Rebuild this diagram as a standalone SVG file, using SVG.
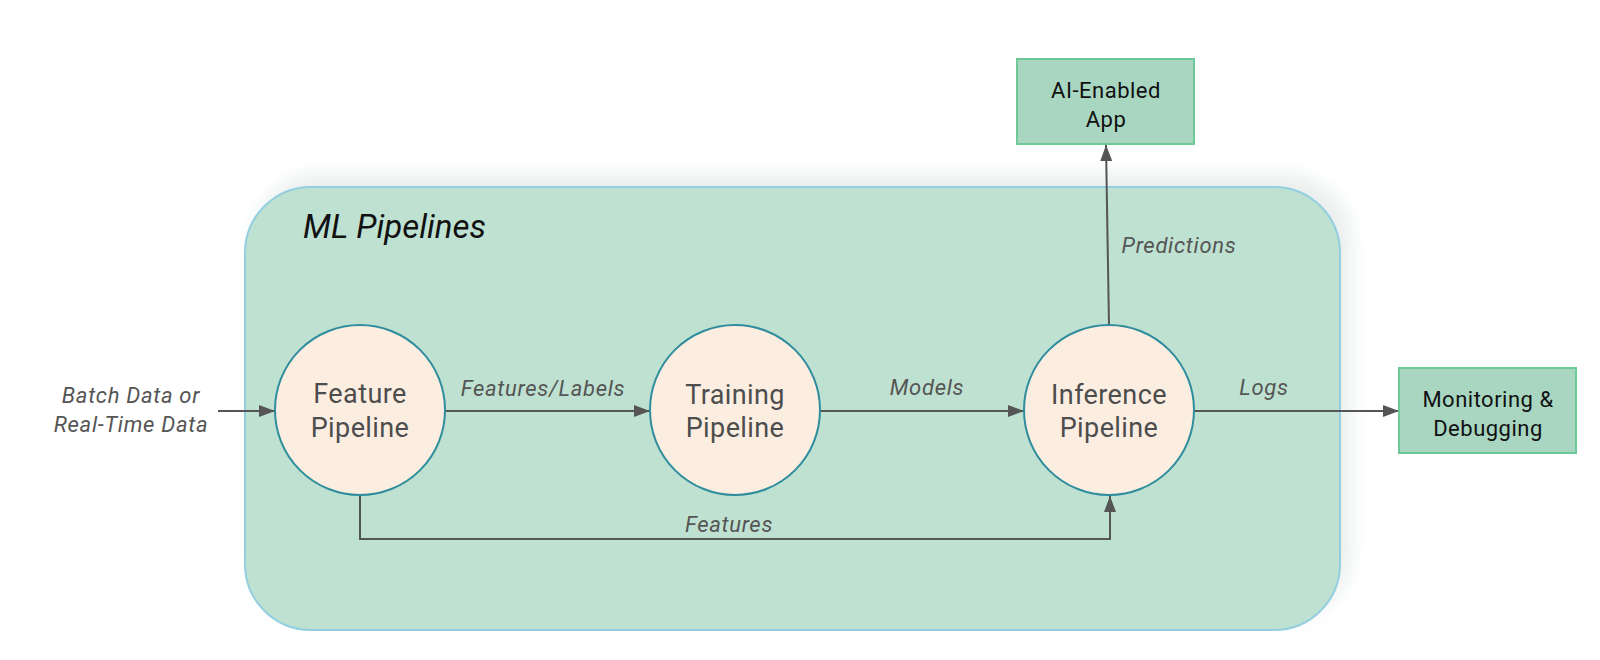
<svg xmlns="http://www.w3.org/2000/svg" width="1600" height="660" viewBox="0 0 1600 660">
<defs>
  <filter id="glow" x="-10%" y="-15%" width="120%" height="130%">
    <feGaussianBlur in="SourceAlpha" stdDeviation="9"/>
    <feOffset dx="10" dy="-12" result="b"/>
    <feFlood flood-color="#c9d8d3" flood-opacity="0.4"/>
    <feComposite in2="b" operator="in"/>
    <feMerge><feMergeNode/><feMergeNode in="SourceGraphic"/></feMerge>
  </filter>
  <marker id="arr" viewBox="0 0 16 12" refX="16" refY="6" markerWidth="16" markerHeight="12" markerUnits="userSpaceOnUse" orient="auto">
    <path d="M0,0 L16,6 L0,12 Z" fill="#555555"/>
  </marker>
  <style>
    .circ{fill:#fcede1;stroke:#2f8d9d;stroke-width:2}
    .box{fill:#a8d6c1;stroke:#6fc897;stroke-width:2}
    .ctext{font-family:Roboto,"Liberation Sans",sans-serif;font-size:27px;letter-spacing:0.4px;fill:#4d4d4d;text-anchor:middle}
    .btext{font-family:Roboto,"Liberation Sans",sans-serif;font-size:22px;letter-spacing:0.5px;fill:#111111;text-anchor:middle}
    .elabel{font-family:Roboto,"Liberation Sans",sans-serif;font-size:22px;letter-spacing:0.7px;font-style:italic;fill:#555555;text-anchor:middle}
    .edge{fill:none;stroke:#555555;stroke-width:2}
  </style>
</defs>
<rect width="1600" height="660" fill="#ffffff"/>
<g id="ml-pipelines">
  <rect x="245" y="187" width="1095" height="443" rx="66" ry="66" fill="#bfe1d1" stroke="#93cfe0" stroke-width="2" filter="url(#glow)"/>
  <text x="303" y="238" font-family="Roboto,'Liberation Sans',sans-serif" font-size="33" font-style="italic" fill="#111111">ML Pipelines</text>
</g>
<g id="connectors">
  <path class="edge" d="M218,411 L275,411" marker-end="url(#arr)"/>
  <path class="edge" d="M445,411 L650,411" marker-end="url(#arr)"/>
  <path class="edge" d="M820,411 L1024,411" marker-end="url(#arr)"/>
  <path class="edge" d="M1194,411 L1399,411" marker-end="url(#arr)"/>
  <path class="edge" d="M1109,326 L1106,145" marker-end="url(#arr)"/>
  <path class="edge" d="M360,495 L360,539 L1110,539 L1110,496" marker-end="url(#arr)"/>
  <text class="elabel" x="131" y="403">Batch Data or</text>
  <text class="elabel" x="131" y="432">Real-Time Data</text>
  <text class="elabel" x="543" y="396">Features/Labels</text>
  <text class="elabel" x="927" y="395">Models</text>
  <text class="elabel" x="1264" y="395">Logs</text>
  <text class="elabel" x="1179" y="253">Predictions</text>
  <text class="elabel" x="729" y="532">Features</text>
</g>
<g id="feature-pipeline">
  <circle class="circ" cx="360" cy="410" r="85"/>
  <text class="ctext" x="360" y="403">Feature</text>
  <text class="ctext" x="360" y="437">Pipeline</text>
</g>
<g id="training-pipeline">
  <circle class="circ" cx="735" cy="410" r="85"/>
  <text class="ctext" x="735" y="404">Training</text>
  <text class="ctext" x="735" y="437">Pipeline</text>
</g>
<g id="inference-pipeline">
  <circle class="circ" cx="1109" cy="410" r="85"/>
  <text class="ctext" x="1109" y="404">Inference</text>
  <text class="ctext" x="1109" y="437">Pipeline</text>
</g>
<g id="ai-enabled-app">
  <rect class="box" x="1017" y="59" width="177" height="85"/>
  <text class="btext" x="1106" y="98">AI-Enabled</text>
  <text class="btext" x="1106" y="127">App</text>
</g>
<g id="monitoring-debugging">
  <rect class="box" x="1399" y="368" width="177" height="85"/>
  <text class="btext" x="1488" y="407">Monitoring &amp;</text>
  <text class="btext" x="1488" y="436">Debugging</text>
</g>
</svg>
